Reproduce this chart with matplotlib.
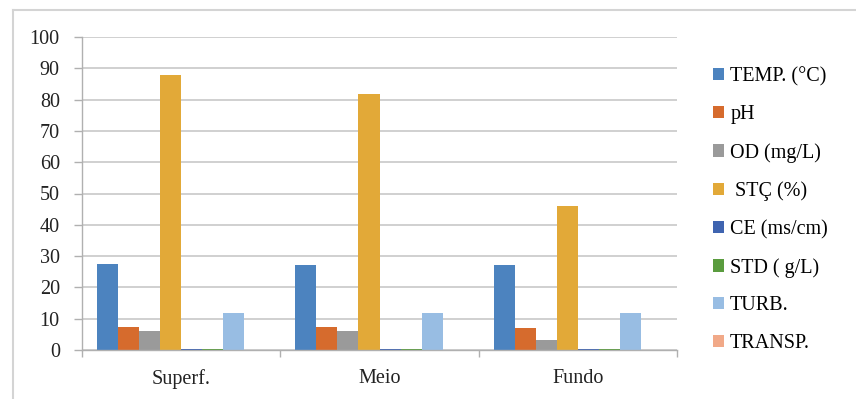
import matplotlib
matplotlib.use("Agg")
import matplotlib.pyplot as plt
import numpy as np
from matplotlib.lines import Line2D

categories = ["Superf.", "Meio", "Fundo"]
series_names = ["TEMP. (°C)", "pH", "OD (mg/L)", " STÇ (%)", "CE (ms/cm)",
                "STD ( g/L)", "TURB.", "TRANSP."]
temp = [27.6, 27.3, 27.3]
ph = [7.3, 7.4, 7.0]
od = [6.2, 6.0, 3.3]
stc = [87.8, 81.8, 45.9]
ce = [0.3, 0.3, 0.3]
std = [0.2, 0.2, 0.2]
turb = [11.8, 11.8, 11.8]
transp = [0.0, 0.0, 0.0]
series_values = [temp, ph, od, stc, ce, std, turb, transp]
colors = ["#4c83bf", "#d66b2d", "#9a9a9a", "#e2a938", "#3f64b0",
          "#5a9c3e", "#98bde3", "#f1a988"]
yticks = list(range(0, 101, 10))

W, H = 856, 399
fig = plt.figure(figsize=(W / 100, H / 100), dpi=100)
plt.rcParams["font.family"] = ["Liberation Serif", "DejaVu Serif"]

ax = fig.add_axes([82 / W, 1 - 350 / H, (677 - 82) / W, (350 - 37) / H])

n = len(series_names)
bw = 0.85 / n
x = np.arange(len(categories))
handles = []
for i, (name, vals, c) in enumerate(zip(series_names, series_values, colors)):
    off = (i - (n - 1) / 2) * bw
    b = ax.bar(x + off, vals, width=bw, color=c, label=name, linewidth=0)
    handles.append(b)

ax.set_xlim(-0.5, len(categories) - 0.5)
ax.set_ylim(0, 100)
ax.set_yticks(yticks)
ax.set_yticklabels([str(t) for t in yticks], fontsize=14.5, color="#222222")
ax.yaxis.grid(True, color="#c8c8c8", linewidth=1.2)
ax.set_axisbelow(True)
ax.set_xticks(x)
ax.set_xticklabels(categories, fontsize=14.5, color="#222222")
ax.tick_params(axis="x", length=0, pad=14)
ax.set_xticks(np.arange(-0.5, len(categories)), minor=True)
ax.tick_params(axis="x", which="minor", length=5, color="#b0b0b0", width=1)
ax.tick_params(axis="y", length=6, color="#b0b0b0", width=1, pad=10)
for s in ["top", "right"]:
    ax.spines[s].set_visible(False)
for s in ["left", "bottom"]:
    ax.spines[s].set_color("#b0b0b0")
    ax.spines[s].set_linewidth(1)

# Legend on the right side
leg = fig.legend(handles=handles, loc="upper left",
                 bbox_to_anchor=(705 / W, 1 - 59 / H),
                 frameon=False, fontsize=14.5, handlelength=0.55,
                 handleheight=0.55, handletextpad=0.3, labelspacing=0.93,
                 borderaxespad=0)

# Chart-area border (top and left edges)
fig.add_artist(Line2D([13 / W, 1], [1 - 10 / H, 1 - 10 / H],
                      color="#d4d4d4", linewidth=1.5, transform=fig.transFigure))
fig.add_artist(Line2D([13 / W, 13 / W], [0, 1 - 10 / H],
                      color="#d4d4d4", linewidth=1.5, transform=fig.transFigure))

fig.savefig("out.png", dpi=100)
